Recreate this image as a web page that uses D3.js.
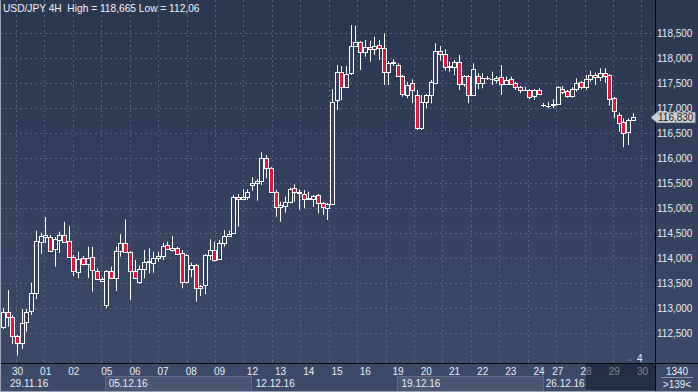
<!DOCTYPE html>
<html><head><meta charset="utf-8">
<script src="https://cdn.jsdelivr.net/npm/d3@7"></script>
<style>html,body{margin:0;padding:0;background:#2c3752;overflow:hidden}
text{font-family:"Liberation Sans",Arial,sans-serif}</style>
</head><body>
<svg id="c" width="698" height="392"></svg>
<script>
const titleText = "USD/JPY 4H  High = 118,665 Low = 112,06";

const open = [112.632,112.932,112.826,112.446,112.300,112.726,112.946,113.306,114.326,114.426,
114.420,114.186,114.366,114.466,114.340,114.032,113.732,114.000,113.880,114.020,
113.752,113.552,113.066,113.746,113.600,114.152,114.300,114.120,113.752,113.532,
113.780,113.920,113.912,114.000,114.046,114.260,114.166,114.200,114.100,113.532,
113.780,113.860,113.446,113.466,114.066,114.166,113.986,114.300,114.446,114.500,
115.232,115.180,115.232,115.460,115.512,115.552,116.000,115.800,115.332,115.020,
115.046,115.132,115.400,115.332,115.280,115.180,115.192,115.260,115.100,115.012,
115.080,117.166,117.732,117.432,117.700,118.252,118.320,118.120,118.220,118.180,
118.266,118.200,117.732,117.912,117.866,117.646,117.266,117.512,117.266,116.600,
117.132,117.266,117.512,118.152,118.086,117.832,117.820,117.920,117.486,117.646,
117.266,117.646,117.512,117.600,117.580,117.566,117.620,117.486,117.580,117.500,
117.420,117.366,117.366,117.246,117.366,117.066,117.052,117.066,117.080,117.386,
117.346,117.252,117.380,117.520,117.432,117.580,117.666,117.620,117.712,117.666,
117.200,116.866,116.726,116.532,116.766];

const close = [112.926,112.820,112.446,112.306,112.712,112.932,113.306,114.352,114.446,114.466,
114.152,114.386,114.466,114.332,114.032,113.740,113.980,113.880,114.000,113.766,
113.586,113.580,113.740,113.600,114.152,114.300,114.120,113.752,113.600,113.780,
113.932,113.946,114.000,114.046,114.246,114.180,114.200,114.086,113.532,114.066,
113.860,113.400,113.400,114.066,114.166,113.966,114.300,114.446,114.486,115.232,
115.180,115.232,115.332,115.512,115.552,116.000,115.800,115.332,115.020,115.060,
115.132,115.386,115.320,115.300,115.180,115.212,115.246,115.100,115.032,115.080,
117.132,117.732,117.432,117.680,118.252,118.320,118.120,118.220,118.180,118.246,
118.200,117.732,117.912,117.920,117.646,117.286,117.466,117.366,116.600,117.132,
117.266,117.532,118.152,118.086,117.832,117.840,117.920,117.486,117.646,117.266,
117.780,117.512,117.600,117.610,117.590,117.612,117.480,117.566,117.486,117.420,
117.366,117.370,117.220,117.366,117.286,117.070,117.056,117.092,117.420,117.332,
117.246,117.380,117.500,117.432,117.580,117.666,117.620,117.712,117.652,117.180,
116.952,116.712,116.500,116.766,116.830];

const high = [113.006,113.366,112.866,112.466,112.986,112.986,113.512,114.552,114.512,114.826,
114.466,114.426,114.532,114.732,114.646,114.066,114.132,114.046,114.232,114.232,
113.800,113.620,113.766,113.832,114.232,114.480,114.780,114.146,113.966,113.852,
114.166,114.200,114.132,114.132,114.312,114.332,114.446,114.232,114.166,114.086,
113.912,113.886,113.466,114.086,114.380,114.332,114.366,114.566,114.552,115.266,
115.286,115.380,115.380,115.620,115.586,116.120,116.066,115.826,115.366,115.132,
115.232,115.412,115.480,115.380,115.366,115.332,115.266,115.286,115.126,115.106,
117.380,117.866,117.846,117.846,118.665,118.652,118.346,118.366,118.352,118.432,
118.366,118.500,117.946,117.980,117.900,117.666,117.532,117.580,117.366,117.266,
117.286,117.566,118.300,118.246,118.180,117.932,117.966,118.066,117.666,117.666,
117.900,117.700,117.700,117.646,117.732,117.646,117.866,117.632,117.632,117.526,
117.446,117.432,117.386,117.386,117.400,117.106,117.132,117.180,117.446,117.446,
117.366,117.420,117.600,117.546,117.666,117.752,117.712,117.800,117.800,117.686,
117.226,116.912,116.800,116.800,116.900];

const low = [112.586,112.632,112.286,112.060,112.186,112.532,112.866,113.186,114.086,114.306,
114.132,113.832,114.106,114.326,114.026,113.646,113.600,113.866,113.606,113.332,
113.566,113.532,113.000,113.586,113.346,114.032,114.106,113.166,113.586,113.486,
113.600,113.700,113.712,113.932,113.966,114.166,114.132,114.066,113.400,113.500,
113.620,113.132,113.246,113.280,113.966,113.932,113.966,114.232,114.426,114.486,
114.632,115.166,115.166,115.352,115.152,115.466,115.600,115.306,114.832,114.732,
114.912,115.106,115.132,114.966,115.000,115.166,115.032,114.900,114.866,114.766,
115.066,116.966,117.166,117.406,117.666,118.226,117.766,118.032,117.932,118.066,
117.966,117.466,117.466,117.846,117.626,117.232,117.200,117.100,116.566,116.566,
117.000,117.100,117.486,117.952,117.752,117.732,117.666,117.366,117.432,117.100,
117.246,117.380,117.400,117.566,117.466,117.500,117.266,117.466,117.466,117.366,
117.300,117.346,117.180,117.166,117.266,117.026,117.000,117.000,117.066,117.286,
117.212,117.212,117.332,117.380,117.366,117.532,117.466,117.546,117.512,117.052,
116.800,116.532,116.220,116.266,116.746];

const priceTicks = [112.5,113,113.5,114,114.5,115,115.5,116,116.5,117,117.5,118,118.5];
const dayLabels = ["30","01","02","05","06","07","08","09","12","13","14","15","16","19","20","21","22","23","24","27","28","29","30"];
const dayIdx = [2,8,14,21,27,33,39,45,52,58,64,70,76,83,89,95,101,107,113,117,123,129,135];
const weekLabels = ["29.11.16","05.12.16","12.12.16","19.12.16","26.12.16"];
const weekIdx = [1.5,22.5,53.8,84.8,115.5];
const weekBoxStart = [21.7,83.8];
const weekBoxEnd = [52.8,114.9];
const dimStartIdx = 124;
const lastPrice = 116.830;
const barsText = "1340";
const zoomText = ">139<";
const markerText = "4";
const markerIdx = 135;

const W = 698, H = 392, plotR = 655, plotB = 363;
const svg = d3.select("#c");
const defs = svg.append("defs");
const g = defs.append("linearGradient").attr("id","bg").attr("x1",0).attr("y1",0).attr("x2",0).attr("y2",1);
g.append("stop").attr("offset","0%").attr("stop-color","#2b3651");
g.append("stop").attr("offset","100%").attr("stop-color","#3d4a6a");
defs.append("clipPath").attr("id","plotclip").append("rect").attr("x",0).attr("y",0).attr("width",plotR).attr("height",plotB);

svg.append("rect").attr("width",W).attr("height",H).attr("fill","url(#bg)");

const x = d3.scaleLinear().domain([0,134]).range([3,632.7]);
const y = d3.scaleLinear().domain([112.5,118.5]).range([333.3,33.3]);
const fmt = v => d3.format(".3f")(v).replace(".",",");

const plot = svg.append("g").attr("clip-path","url(#plotclip)");
plot.selectAll("line.hg").data(priceTicks).join("line")
  .attr("x1",0).attr("x2",plotR)
  .attr("y1",d=>Math.round(y(d))+0.5).attr("y2",d=>Math.round(y(d))+0.5)
  .attr("stroke","#56627f").attr("stroke-dasharray","2,3");
const gridIdx = d3.range(23).map(k => 2.77 + 6.05*k);
plot.selectAll("line.vg").data(gridIdx).join("line")
  .attr("y1",0).attr("y2",plotB)
  .attr("x1",d=>Math.round(x(d))+0.5).attr("x2",d=>Math.round(x(d))+0.5)
  .attr("stroke","#56627f").attr("stroke-dasharray","2,3");

svg.append("text").attr("x",3).attr("y",11.5).attr("font-size",10.2).attr("fill","#f2f4f8").attr("xml:space","preserve").text(titleText);

const data = open.map((o,i)=>({i,o,c:close[i],h:high[i],l:low[i]}));
const cg = plot.append("g");
cg.selectAll("line.w").data(data).join("line")
  .attr("x1",d=>Math.round(x(d.i))+0.5).attr("x2",d=>Math.round(x(d.i))+0.5)
  .attr("y1",d=>y(d.h)).attr("y2",d=>y(d.l))
  .attr("stroke","#ffffff").attr("stroke-width",1);
cg.selectAll("rect.b").data(data).join("rect")
  .attr("x",d=>Math.round(x(d.i))-1.5).attr("width",4)
  .attr("y",d=>Math.round(y(Math.max(d.o,d.c)))+0.5)
  .attr("height",d=>Math.max(0.01,Math.round(y(Math.min(d.o,d.c)))-Math.round(y(Math.max(d.o,d.c)))))
  .attr("fill",d=>d.c<d.o?"#e0173b":"#34405e")
  .attr("stroke","#ffffff").attr("stroke-width",1);

const ax = svg.append("g");
ax.selectAll("rect.wb").data(weekBoxStart).join("rect")
  .attr("x",(d,i)=>Math.round(x(d))+0.5).attr("y",376.5)
  .attr("width",(d,i)=>Math.round(x(weekBoxEnd[i]))-Math.round(x(d)))
  .attr("height",16)
  .attr("fill","#4a5673").attr("stroke","#5f6b88");
ax.selectAll("text.day").data(dayLabels).join("text")
  .attr("x",(d,i)=>x(dayIdx[i])-0.5).attr("y",374.5)
  .attr("font-size",10).attr("fill","#e8edf5").text(d=>d);
ax.selectAll("text.wk").data(weekLabels).join("text")
  .attr("x",(d,i)=>x(weekIdx[i])).attr("y",386.5)
  .attr("font-size",10).attr("fill","#e8edf5").text(d=>d);
ax.selectAll("line.tk").data(gridIdx).join("line")
  .attr("x1",d=>Math.round(x(d))+0.5).attr("x2",d=>Math.round(x(d))+0.5)
  .attr("y1",plotB-4).attr("y2",plotB).attr("stroke","#56627f");
svg.append("rect").attr("x",Math.round(x(dimStartIdx))).attr("y",364)
  .attr("width",plotR-Math.round(x(dimStartIdx))).attr("height",26)
  .attr("fill","#0d1424").attr("opacity",0.5);

// marker
const mx = Math.round(x(markerIdx));
svg.append("path").attr("d",`M${mx-10},${plotB-2} L${mx-7},${plotB-5} L${mx-4},${plotB-2} Z`).attr("fill","#56627f");
svg.append("text").attr("x",mx).attr("y",361.5).attr("font-size",10).attr("fill","#e8edf5").text(markerText);

svg.append("line").attr("x1",0).attr("x2",W).attr("y1",plotB+0.5).attr("y2",plotB+0.5).attr("stroke","#05070c");
svg.append("line").attr("x1",plotR+0.5).attr("x2",plotR+0.5).attr("y1",0).attr("y2",H).attr("stroke","#05070c");

const yAxis = d3.axisRight(y).tickValues(priceTicks).tickFormat(fmt).tickSize(0).tickPadding(0);
const ya = svg.append("g").attr("transform",`translate(${plotR+2},0)`).call(yAxis);
ya.select(".domain").remove();
ya.selectAll("text").attr("font-size",10).attr("fill","#e8edf5").attr("font-family","Liberation Sans, Arial, sans-serif");

const yc = Math.round(y(lastPrice))+0.5;
svg.append("path")
  .attr("d",`M${plotR-4},${yc} L${plotR+2},${yc-5} L695,${yc-5} L695,${yc+5} L${plotR+2},${yc+5} Z`)
  .attr("fill","#cdd0d6").attr("stroke","#a6aab3");
svg.append("text").attr("x",plotR+3).attr("y",yc+3.5).attr("font-size",10).attr("fill","#1a1d24").text(fmt(lastPrice));

svg.append("text").attr("x",677).attr("y",374.5).attr("text-anchor","middle").attr("font-size",10).attr("fill","#e8edf5").text(barsText);
svg.append("line").attr("x1",661).attr("x2",693).attr("y1",377.5).attr("y2",377.5).attr("stroke","#8d96aa");
svg.append("text").attr("x",677).attr("y",388).attr("text-anchor","middle").attr("font-size",10).attr("fill","#e8edf5").text(zoomText);

svg.append("line").attr("x1",0.5).attr("x2",0.5).attr("y1",0).attr("y2",H).attr("stroke","#9aa2b4");
svg.append("line").attr("x1",0).attr("x2",W).attr("y1",H-0.5).attr("y2",H-0.5).attr("stroke","#9aa2b4");
</script>
</body></html>
